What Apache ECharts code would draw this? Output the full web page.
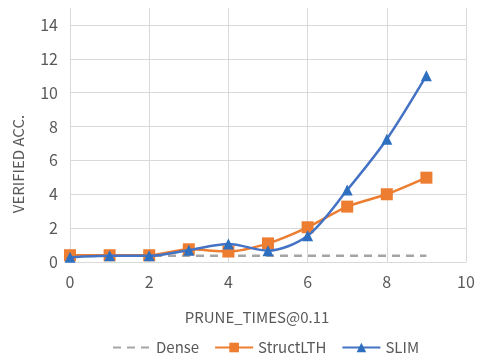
<!DOCTYPE html>
<html><head><meta charset="utf-8">
<script src="https://cdn.jsdelivr.net/npm/echarts@6/dist/echarts.min.js"></script>
<style>html,body{margin:0;padding:0;background:#fff}#c{width:478px;height:356px}</style>
</head><body><div id="c"></div>
<script>
const xValues = [0, 1, 2, 3, 4, 5, 6, 7, 8, 9];
const dense = [0.37, 0.37, 0.37, 0.37, 0.37, 0.37, 0.37, 0.37, 0.37, 0.37];
const structLTH = [0.4, 0.4, 0.4, 0.75, 0.62, 1.1, 2.05, 3.27, 4.0, 4.98];
const slim = [0.28, 0.37, 0.37, 0.7, 1.06, 0.67, 1.55, 4.25, 7.25, 11.0];
const yTicks = [0, 2, 4, 6, 8, 10, 12, 14];

const pair = arr => xValues.map((x, i) => [x, arr[i]]);
const font = 'Noto Sans CJK SC';
const grey = '#595959';
const gridColor = '#D9D9D9';

const chart = echarts.init(document.getElementById('c'));
chart.setOption({
  animation: false,
  textStyle: {fontFamily: font},
  grid: {left: 70, right: 12, top: 8, bottom: 94},
  xAxis: {
    type: 'value', min: 0, max: 10, interval: 2,
    name: 'PRUNE_TIMES@0.11', nameLocation: 'middle', nameGap: 48,
    nameTextStyle: {color: grey, fontSize: 15, fontFamily: font, padding: [0, 22, 0, 0]},
    axisLine: {show: true, lineStyle: {color: gridColor, width: 1}},
    axisTick: {show: false},
    axisLabel: {color: grey, fontSize: 16, margin: 12, fontFamily: font},
    splitLine: {show: true, lineStyle: {color: gridColor, width: 1}}
  },
  yAxis: {
    type: 'value', min: 0, max: 15, interval: 2,
    axisLine: {show: false}, axisTick: {show: false},
    axisLabel: {color: grey, fontSize: 16, margin: 12, fontFamily: font,
      formatter: v => yTicks.indexOf(v) >= 0 ? String(v) : ''},
    splitLine: {show: true, lineStyle: {color: [gridColor, gridColor, gridColor, gridColor, gridColor, gridColor, gridColor, gridColor, 'rgba(0,0,0,0)'], width: 1}}
  },
  graphic: [{
    type: 'text', x: 18, y: 164, rotation: Math.PI / 2,
    style: {text: 'VERIFIED ACC.', fill: grey, font: '15px "' + font + '"', align: 'center', verticalAlign: 'middle'}
  }],
  legend: {
    top: 335, left: 107, itemWidth: 38, itemHeight: 12, itemGap: 15,
    textStyle: {color: grey, fontSize: 15, fontFamily: font},
    data: [
      {name: 'Dense', itemStyle: {color: 'rgba(0,0,0,0)', borderWidth: 0}},
      'StructLTH', 'SLIM'
    ]
  },
  series: [
    {name: 'Dense', type: 'line', data: pair(dense), symbol: 'none',
      lineStyle: {color: '#A5A5A5', width: 2.5, type: [8, 6]}, itemStyle: {color: '#A5A5A5'}, z: 1},
    {name: 'StructLTH', type: 'line', data: pair(structLTH), smooth: 0.25,
      symbol: 'rect', symbolSize: 12, showAllSymbol: true,
      lineStyle: {color: '#ED7D31', width: 2.5}, itemStyle: {color: '#ED7D31'}, z: 2},
    {name: 'SLIM', type: 'line', data: pair(slim), smooth: 0.3,
      symbol: 'triangle', symbolSize: 11, showAllSymbol: true,
      lineStyle: {color: '#4472C4', width: 2.5}, itemStyle: {color: '#2E6FC0'}, z: 3}
  ]
});
</script></body></html>
